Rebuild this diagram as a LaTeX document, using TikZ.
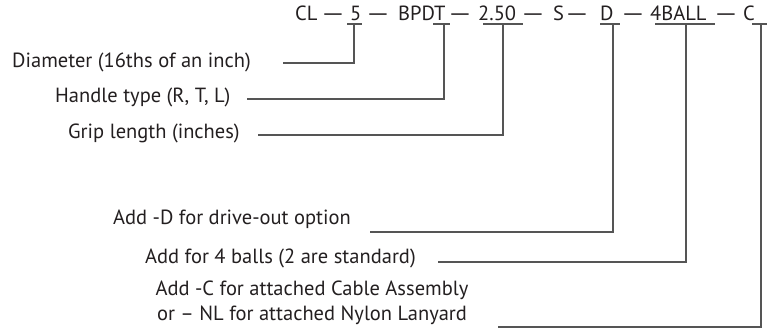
\documentclass[tikz,border=0pt]{standalone}
\usepackage{fontspec}
\setmainfont{PT Sans}
\definecolor{codeInk}{RGB}{35,31,32}
\definecolor{leadGray}{RGB}{85,85,85}
\newcommand{\pndash}{\scalebox{1.45}[1]{—}}

\begin{document}
\begin{tikzpicture}[x=1pt, y=-1pt, font=\fontsize{20.5}{25}\selectfont, text=codeInk,
    code/.style={anchor=base west, inner sep=0pt},
    lbl/.style={anchor=base west, inner sep=0pt},
    lead/.style={leadGray, line width=1.1pt}]
  \useasboundingbox (0,0) rectangle (767,328);

  % part number
  \node[code] (cl) at (295,21) {CL};
  \node[code] (five) at (350,21) {5};
  \node[code] (bpdt) at (398,21) {BPDT};
  \node[code] (len) at (478,21) {2.50};
  \node[code] (sty) at (553,21) {S};
  \node[code] (drv) at (600,21) {D};
  \node[code] (balls) at (650,21) {4BALL};
  \node[code] (cab) at (743,21) {C};
  \foreach \x [count=\i] in {333,378,460,533,577,633,726}
    \node[anchor=base, inner sep=0pt] (dash\i) at (\x,21) {\pndash};

  % underlines
  \draw[lead] (347,24) -- (362,24);
  \draw[lead] (433,24) -- (450,24);
  \draw[lead] (483,24) -- (523,24);
  \draw[lead] (600,24) -- (620,24);
  \draw[lead] (655,24) -- (715,24);
  \draw[lead] (752,24) -- (767,24);

  % labels
  \node[lbl] (diaLbl) at (12,68) {Diameter (16ths of an inch)};
  \node[lbl] (hdlLbl) at (55,103) {Handle type (R, T, L)};
  \node[lbl] (gripLbl) at (68,139) {Grip length (inches)};
  \node[lbl] (drvLbl) at (113,225) {Add -D for drive-out option};
  \node[lbl] (ballLbl) at (145,263) {Add for 4 balls (2 are standard)};
  \node[align=center, inner sep=0pt] (cabLbl) at (312,303)
    {Add -C for attached Cable Assembly\\or – NL for attached Nylon Lanyard};

  % leaders
  \coordinate (diaEnd) at (283,63);
  \coordinate (hdlEnd) at (247,99);
  \coordinate (gripEnd) at (258,135);
  \coordinate (drvEnd) at (370,232);
  \coordinate (ballEnd) at (438,262);
  \coordinate (cabEnd) at (498,327);
  \draw[lead] (diaEnd) -| (354,24);
  \draw[lead] (hdlEnd) -| (444,24);
  \draw[lead] (gripEnd) -| (503,24);
  \draw[lead] (drvEnd) -| (613,24);
  \draw[lead] (ballEnd) -| (686,24);
  \draw[lead] (cabEnd) -| (761,24);
\end{tikzpicture}
\end{document}
